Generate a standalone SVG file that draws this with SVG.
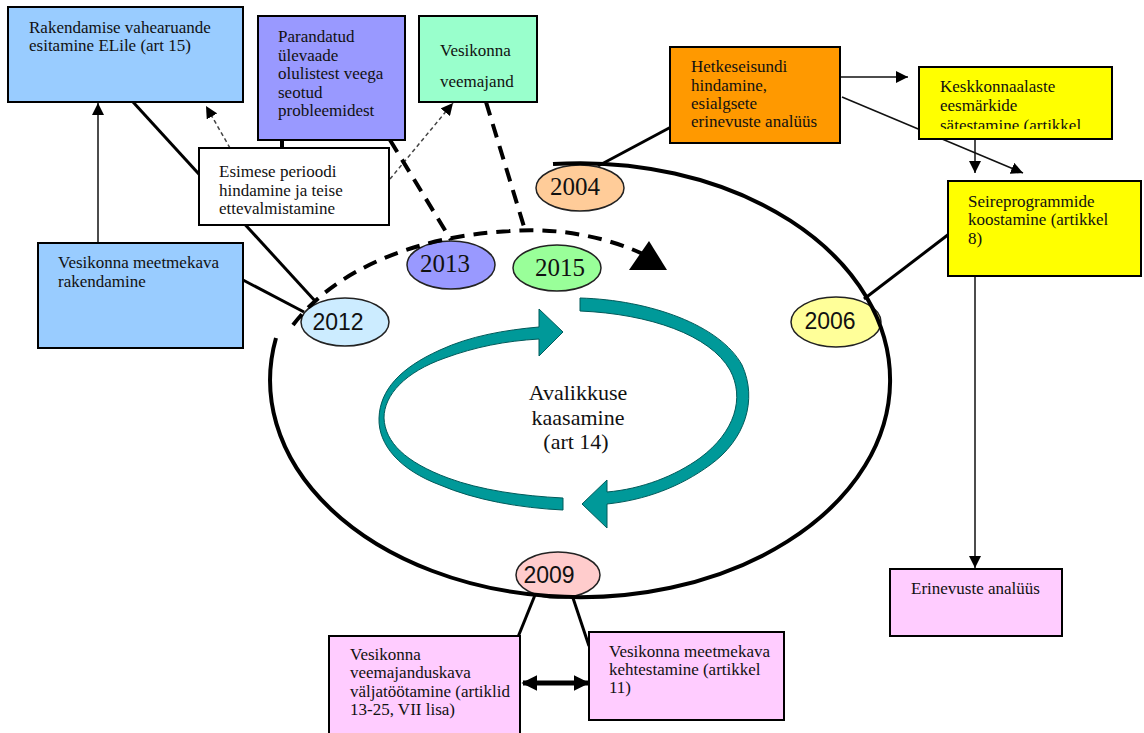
<svg xmlns="http://www.w3.org/2000/svg" width="1144" height="733" viewBox="0 0 1144 733">
  <defs>
    <style>
      .box { stroke: #000; stroke-width: 2; }
      .lbl { font-family: "Liberation Serif", "Times New Roman", serif; font-size: 17px; fill: #111; }
      .yr-serif { font-family: "Liberation Serif", "Times New Roman", serif; font-size: 25px; fill: #111; text-anchor: middle; }
      .yr-sans { font-family: "Liberation Sans", Arial, sans-serif; font-size: 23px; fill: #111; text-anchor: middle; }
      .yr { stroke: #222; stroke-width: 1.5; }
      .solid { stroke: #000; stroke-width: 3; fill: none; }
      .thin { stroke: #111; stroke-width: 1.5; fill: none; }
      .dotted { stroke: #444; stroke-width: 1.5; stroke-dasharray: 4 3; fill: none; }
      .dash { stroke: #000; stroke-width: 4; stroke-dasharray: 14 9; fill: none; }
      .ribbon { fill: #009999; stroke: #005a5a; stroke-width: 1; }
      .center { font-family: "Liberation Serif", "Times New Roman", serif; font-size: 22px; fill: #111; text-anchor: middle; }
    </style>
    <marker id="ah" viewBox="0 0 10 10" refX="10" refY="5" markerWidth="12" markerHeight="12" markerUnits="userSpaceOnUse" orient="auto">
      <path d="M0,0 L10,5 L0,10 Z" fill="#000"/>
    </marker>
    <marker id="ahBig" viewBox="0 0 10 10" refX="9" refY="5" markerWidth="16" markerHeight="17" markerUnits="userSpaceOnUse" orient="auto-start-reverse">
      <path d="M0,0 L10,5 L0,10 Z" fill="#000"/>
    </marker>
    <clipPath id="clipKesk">
      <rect x="919" y="67" width="193" height="62"/>
    </clipPath>
  </defs>

  <rect width="1144" height="733" fill="#fff"/>

  <!-- public participation cycle in the middle -->
  <g id="participation">
    <path class="ribbon" d="M539,327 C505,330 470,336 440,350 C400,368 380,390 379,418 C378,445 400,470 440,485 C475,500 520,508 563,510 L563,498 C522,496 480,490 448,478 C405,462 385,442 384,418 C384,395 405,372 445,358 C475,347 505,341 539,339 L539,356 L563,332 L539,309 Z"/>
    <path class="ribbon" d="M580,298 C650,300 720,325 742,365 C758,400 745,440 710,465 C680,487 645,500 607,504 L607,528 L582,504 L607,480 L607,492 C642,489 675,476 700,458 C735,432 745,398 730,370 C710,335 650,314 580,311 Z"/>
    <text class="center" x="578" y="400">Avalikkuse</text>
    <text class="center" x="578" y="425">kaasamine</text>
    <text class="center" x="576" y="449">(art 14)</text>
  </g>

  <!-- connectors -->
  <g id="connectors">
    <line class="solid" x1="133" y1="102" x2="316" y2="302"/>
    <line class="solid" x1="243" y1="280" x2="304" y2="312"/>
    <line class="thin" x1="98" y1="243" x2="98" y2="103" marker-end="url(#ah)"/>
    <line class="dotted" x1="230" y1="148" x2="206" y2="106" marker-end="url(#ah)"/>
    <line class="dotted" x1="390" y1="179" x2="453" y2="103" marker-end="url(#ah)"/>
    <line class="dash" x1="282" y1="140" x2="282" y2="165"/>
    <line class="dash" x1="390" y1="140" x2="451" y2="240"/>
    <line class="dash" x1="486" y1="102" x2="525" y2="230"/>
    <line class="solid" x1="671" y1="127" x2="598" y2="166"/>
    <line class="thin" x1="840" y1="77" x2="908" y2="77" marker-end="url(#ah)"/>
    <line class="thin" x1="842" y1="97" x2="1023" y2="173" marker-end="url(#ah)"/>
    <line class="thin" x1="975" y1="139" x2="975" y2="173" marker-end="url(#ah)"/>
    <line class="solid" x1="949" y1="234" x2="864" y2="299"/>
    <line class="thin" x1="975" y1="276" x2="975" y2="568" marker-end="url(#ah)"/>
    <line class="solid" x1="535" y1="595" x2="518" y2="637"/>
    <line class="solid" x1="572" y1="595" x2="589" y2="646"/>
    <line stroke="#000" stroke-width="5" x1="523" y1="683" x2="588" y2="683" marker-start="url(#ahBig)" marker-end="url(#ahBig)"/>
  </g>

  <!-- boxes -->
  <g id="box-vahearuanne">
    <rect class="box" x="8" y="7" width="235" height="95" fill="#99CCFF"/>
    <text class="lbl" x="29" y="33">Rakendamise vahearuande</text>
    <text class="lbl" x="29" y="51">esitamine ELile (art 15)</text>
  </g>
  <g id="box-ylevaade">
    <rect class="box" x="258" y="16" width="147" height="124" fill="#9999FF"/>
    <text class="lbl" x="278" y="42">Parandatud</text>
    <text class="lbl" x="278" y="61">ülevaade</text>
    <text class="lbl" x="278" y="79">olulistest veega</text>
    <text class="lbl" x="278" y="98">seotud</text>
    <text class="lbl" x="278" y="116">probleemidest</text>
  </g>
  <g id="box-veemajand">
    <rect class="box" x="419" y="16" width="118" height="86" fill="#99FFCC"/>
    <text class="lbl" x="440" y="56">Vesikonna</text>
    <text class="lbl" x="440" y="87">veemajand</text>
  </g>
  <g id="box-esimene-periood">
    <rect class="box" x="199" y="148" width="190" height="77" fill="#fff"/>
    <text class="lbl" x="219" y="177">Esimese perioodi</text>
    <text class="lbl" x="219" y="196">hindamine ja teise</text>
    <text class="lbl" x="219" y="214">ettevalmistamine</text>
  </g>
  <g id="box-meetmekava-rakendamine">
    <rect class="box" x="38" y="243" width="205" height="105" fill="#99CCFF"/>
    <text class="lbl" x="58" y="268">Vesikonna meetmekava</text>
    <text class="lbl" x="58" y="287">rakendamine</text>
  </g>
  <g id="box-hetkeseisund">
    <rect class="box" x="670" y="47" width="170" height="96" fill="#FF9900"/>
    <text class="lbl" x="691" y="72">Hetkeseisundi</text>
    <text class="lbl" x="691" y="91">hindamine,</text>
    <text class="lbl" x="691" y="109">esialgsete</text>
    <text class="lbl" x="691" y="127">erinevuste analüüs</text>
  </g>
  <g id="box-eesmargid">
    <rect class="box" x="919" y="67" width="193" height="72" fill="#FFFF00"/>
    <g clip-path="url(#clipKesk)">
      <text class="lbl" x="940" y="92">Keskkonnaalaste</text>
      <text class="lbl" x="940" y="111">eesmärkide</text>
      <text class="lbl" x="940" y="131">sätestamine (artikkel</text>
    </g>
  </g>
  <g id="box-seireprogrammid">
    <rect class="box" x="948" y="181" width="193" height="95" fill="#FFFF00"/>
    <text class="lbl" x="968" y="207">Seireprogrammide</text>
    <text class="lbl" x="968" y="225">koostamine (artikkel</text>
    <text class="lbl" x="968" y="244">8)</text>
  </g>
  <g id="box-erinevused">
    <rect class="box" x="890" y="569" width="172" height="67" fill="#FFCCFF"/>
    <text class="lbl" x="911" y="594">Erinevuste analüüs</text>
  </g>
  <g id="box-veemajanduskava">
    <rect class="box" x="329" y="636" width="191" height="110" fill="#FFCCFF"/>
    <text class="lbl" x="350" y="660">Vesikonna</text>
    <text class="lbl" x="350" y="678">veemajanduskava</text>
    <text class="lbl" x="350" y="697">väljatöötamine (artiklid</text>
    <text class="lbl" x="350" y="715">13-25, VII lisa)</text>
  </g>
  <g id="box-meetmekava-kehtestamine">
    <rect class="box" x="589" y="632" width="195" height="88" fill="#FFCCFF"/>
    <text class="lbl" x="609" y="657">Vesikonna meetmekava</text>
    <text class="lbl" x="609" y="675">kehtestamine (artikkel</text>
    <text class="lbl" x="609" y="693">11)</text>
  </g>

  <!-- year markers -->
  <g id="year-2004">
    <ellipse class="yr" cx="580" cy="188" rx="44" ry="23" fill="#FFCC99"/>
    <text class="yr-serif" x="575" y="195">2004</text>
  </g>
  <g id="year-2006">
    <ellipse class="yr" cx="836" cy="322" rx="45" ry="25" fill="#FFFF99"/>
    <text class="yr-sans" x="830" y="329">2006</text>
  </g>
  <g id="year-2009">
    <ellipse class="yr" cx="558" cy="575" rx="42" ry="23" fill="#FFCCCC"/>
    <text class="yr-sans" x="549" y="583">2009</text>
  </g>
  <g id="year-2012">
    <ellipse class="yr" cx="345" cy="322" rx="44" ry="24" fill="#CCECFF"/>
    <text class="yr-sans" x="338" y="330">2012</text>
  </g>
  <g id="year-2013">
    <ellipse class="yr" cx="451" cy="265" rx="44" ry="24" fill="#9999FF"/>
    <text class="yr-serif" x="445" y="272">2013</text>
  </g>
  <g id="year-2015">
    <ellipse class="yr" cx="557" cy="268" rx="44" ry="23" fill="#99FF99"/>
    <text class="yr-serif" x="560" y="276">2015</text>
  </g>

  <!-- planning cycle ring: solid part and the dashed next-period arc -->
  <g id="cycle-ring">
    <path d="M553,164 A310,217 0 1 1 276,338" fill="none" stroke="#000" stroke-width="4"/>
    <path class="dash" d="M293,325 C335,270 415,236 510,231 C560,227 610,238 645,255"/>
    <polygon points="629,270 667,270 649,241" fill="#000"/>
  </g>
</svg>
